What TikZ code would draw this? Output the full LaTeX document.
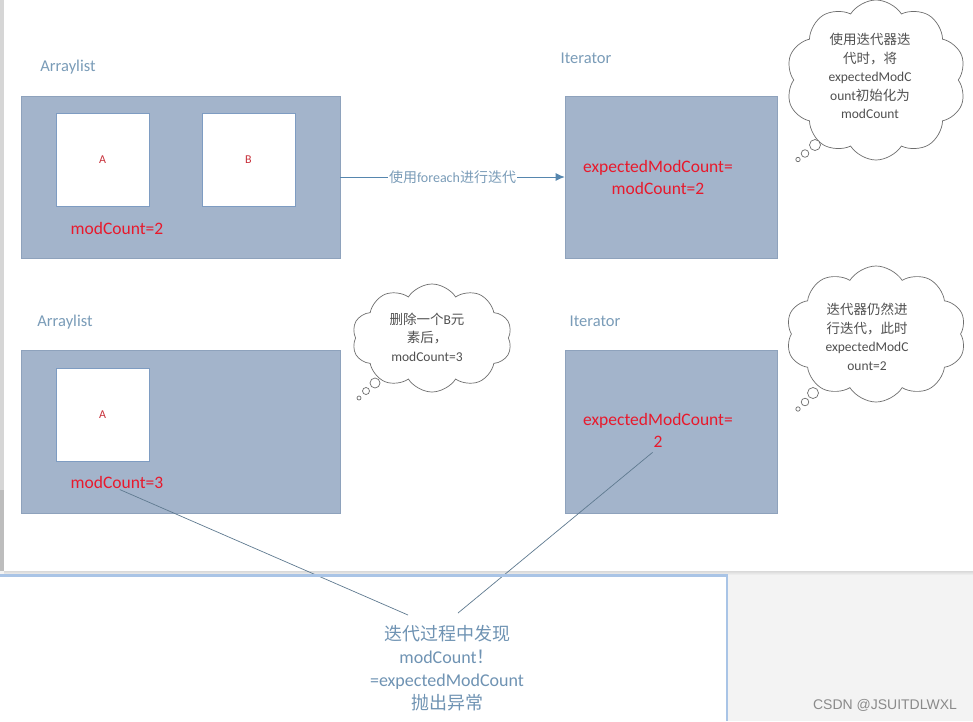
\documentclass[tikz,border=0pt]{standalone}
\usepackage{fontspec}
\setmainfont{Carlito}
\newfontfamily\cjk{Noto Sans CJK SC}
\newfontfamily\wmfont{Liberation Sans}
\usetikzlibrary{shapes.symbols,arrows.meta}
\definecolor{bggrey}{HTML}{F3F3F3}
\definecolor{stripgrey}{HTML}{D6D6D6}
\definecolor{stripdark}{HTML}{BDBDBD}
\definecolor{boxfill}{HTML}{A3B4CB}
\definecolor{boxline}{HTML}{8EA2BC}
\definecolor{innerline}{HTML}{7E9CC2}
\definecolor{redtxt}{HTML}{E8192C}
\definecolor{darkred}{HTML}{C8303A}
\definecolor{labeltxt}{HTML}{7A9CB8}
\definecolor{arrowc}{HTML}{5686AE}
\definecolor{cloudline}{HTML}{6E6E6E}
\definecolor{cloudtxt}{HTML}{505050}
\definecolor{bottxt}{HTML}{6F93B3}
\definecolor{panelblue}{HTML}{A9C4E6}
\definecolor{linkc}{HTML}{5F7A90}
\definecolor{wmgrey}{HTML}{8A8A8A}
\begin{document}
\begin{tikzpicture}[x=1pt,y=-1pt,
  panelbox/.style={draw=boxline, fill=boxfill, line width=0.6pt, inner sep=0},
  innerbox/.style={draw=innerline, fill=white, line width=0.6pt, minimum width=93pt, minimum height=93pt, inner sep=0, text=darkred, font=\fontsize{12}{14}\selectfont},
  titletext/.style={text=labeltxt, font=\fontsize{16.5}{19}\selectfont, inner sep=0},
  redtext/.style={text=redtxt, font=\fontsize{17.5}{22}\selectfont, inner sep=0, align=center},
  thought/.style={cloud, cloud puffs=10, cloud puff arc=115, draw=cloudline, fill=white, line width=0.7pt, inner sep=0},
  cloudtext/.style={text=cloudtxt, font=\fontsize{13.5}{18.5}\selectfont, align=center, inner sep=0},
  bubble/.style={draw=cloudline, fill=white, line width=0.7pt},
  arrowline/.style={draw=arrowc, line width=0.9pt, -{Latex[length=9pt,width=8pt]}},
  link/.style={draw=linkc, line width=0.7pt},
  bottomtext/.style={text=bottxt, font=\fontsize{18}{23}\selectfont, align=center, inner sep=0}
]
\useasboundingbox (0,0) rectangle (973,721);
% background
\fill[bggrey] (0,0) rectangle (973,721);
\fill[white] (4,0) rectangle (973,571);
\fill[stripgrey] (0,0) rectangle (4,490);
\fill[stripdark] (0,490) rectangle (4,571);
\fill[top color=white!85!black, bottom color=bggrey] (4,571) rectangle (973,575);
\fill[white] (0,574) rectangle (727,721);

% row 1
\node[titletext] (al1) at (68,67) {Arraylist};
\node[panelbox, minimum width=319pt, minimum height=162pt] (arr1) at (180.5,177) {};
\node[innerbox] (a1) at (102.5,159.5) {A};
\node[innerbox] (b1) at (248.5,159.5) {B};
\node[redtext] (m2) at (117,228) {modCount=2};

\node[titletext] (itl1) at (586,58) {Iterator};
\node[panelbox, minimum width=212pt, minimum height=162pt] (it1) at (671,177) {};
\node[redtext] (e1) at (658,177) {expectedModCount=\\modCount=2};

\draw[arrowline] (arr1.east) -- node[fill=white, text=labeltxt, inner sep=1pt, font=\fontsize{14}{16}\selectfont] (arrlab) {{\cjk 使用}foreach{\cjk 进行迭代}} (it1.west);

\node[thought, minimum width=180pt, minimum height=160pt] (c1) at (876,80) {};
\draw[bubble] (815,145) circle (5.5);
\draw[bubble] (805,153.5) circle (3.8);
\draw[bubble] (798,159.5) circle (2.2);
\node[cloudtext] (c1t) at (870,76) {{\cjk 使用迭代器迭}\\{\cjk 代时，将}\\expectedModC\\ount{\cjk 初始化为}\\modCount};

% row 2
\node[titletext] (al2) at (65,322) {Arraylist};
\node[panelbox, minimum width=319pt, minimum height=163pt] (arr2) at (180.5,431.5) {};
\node[innerbox] (a2) at (102.5,414.5) {A};
\node[redtext] (m3) at (117,482) {modCount=3};

\node[thought, minimum width=160pt, minimum height=108pt] (c2) at (432,338) {};
\draw[bubble] (375,383) circle (5);
\draw[bubble] (366,391) circle (3.5);
\draw[bubble] (359,398) circle (2);
\node[cloudtext] (c2t) at (427,337) {{\cjk 删除一个}B{\cjk 元}\\{\cjk 素后，}\\modCount=3};

\node[titletext] (itl2) at (595,321) {Iterator};
\node[panelbox, minimum width=212pt, minimum height=163pt] (it2) at (671,431.5) {};
\node[redtext] (e2) at (658,421) {expectedModCount=};
\node[redtext] (two) at (658,442) {2};

\node[thought, minimum width=180pt, minimum height=136pt] (c3) at (876,334) {};
\draw[bubble] (813,393) circle (5.5);
\draw[bubble] (805,402) circle (3.8);
\draw[bubble] (798,409) circle (2.2);
\node[cloudtext] (c3t) at (867,337) {{\cjk 迭代器仍然进}\\{\cjk 行迭代，此时}\\expectedModC\\ount=2};

% bottom message
\node[bottomtext] (msg) at (447,668) {{\cjk 迭代过程中发现}\\modCount{\cjk ！}\\=expectedModCount\\{\cjk 抛出异常}};
\coordinate (j1) at (408,615);
\coordinate (j2) at (458,613);
\draw[link, shorten <=3pt] (m3.south) -- (j1);
\draw[link, shorten <=7pt] (two.south) -- (j2);

% bottom panel border
\draw[panelblue, line width=3pt] (0,575) -- (728,575);
\draw[panelblue, line width=1.5pt] (727,575) -- (727,721);

\node[text=wmgrey, font=\wmfont\fontsize{14}{16}\selectfont, inner sep=0] (wm) at (885,705) {CSDN @JSUITDLWXL};
\end{tikzpicture}
\end{document}
